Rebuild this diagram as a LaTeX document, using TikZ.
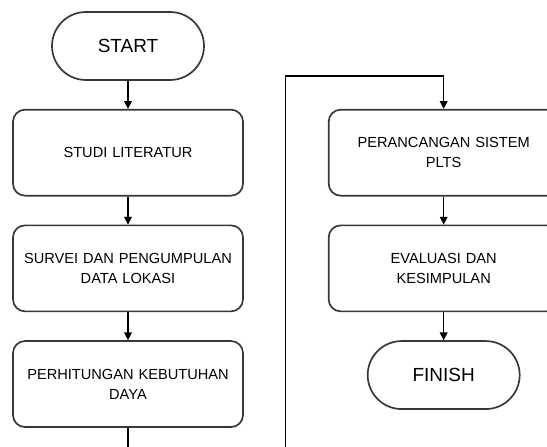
\documentclass[tikz,border=0pt]{standalone}
\usepackage{fontspec}
\setmainfont{Liberation Sans}
\usetikzlibrary{arrows.meta,positioning,calc}
\definecolor{EdgeGray}{RGB}{55,55,55}
\tikzset{
  terminal/.style={draw=EdgeGray,rounded corners=0.85cm,fill=white,
    line width=1.2pt,minimum width=3.8cm,minimum height=1.7cm,
    align=center,font=\fontsize{13.5}{16}\selectfont},
  process/.style={draw=EdgeGray,rounded corners=0.3cm,fill=white,
    line width=1.2pt,minimum width=5.75cm,minimum height=2.15cm,
    text width=5.5cm,align=center,font=\fontsize{10.4}{14.2}\selectfont},
  arrow/.style={-{Triangle[width=5.5pt,length=5.5pt]},line width=0.8pt,black}
}
\begin{document}
\begin{tikzpicture}[node distance=0.70cm]
      \useasboundingbox (0,0) rectangle (13.675,-11.175);
      \node[terminal] (start) at (3.2,-1.15) {START};
      \node[process,below=of start] (studi) {STUDI LITERATUR};
      \node[process,below=of studi] (survei) {SURVEI DAN PENGUMPULAN\\DATA LOKASI};
      \node[process,below=of survei] (hitung) {PERHITUNGAN KEBUTUHAN\\DAYA};
      \node[process,right=2.1cm of studi] (rancang) {PERANCANGAN SISTEM\\PLTS};
      \node[process,below=of rancang] (evaluasi) {EVALUASI DAN\\KESIMPULAN};
      \node[terminal,below=of evaluasi] (finish) {FINISH};
      \coordinate (gap) at ($(hitung.east)!0.5!(rancang.west)$);
      \draw[arrow] (start) -- (studi);
      \draw[arrow] (studi) -- (survei);
      \draw[arrow] (survei) -- (hitung);
      \draw[arrow] (hitung.south) -- ++(0,-0.8) -| ([yshift=0.82cm]gap |- rancang.north) -| (rancang.north);
      \draw[arrow] (rancang) -- (evaluasi);
      \draw[arrow] (evaluasi) -- (finish);
    \end{tikzpicture}
\end{document}
